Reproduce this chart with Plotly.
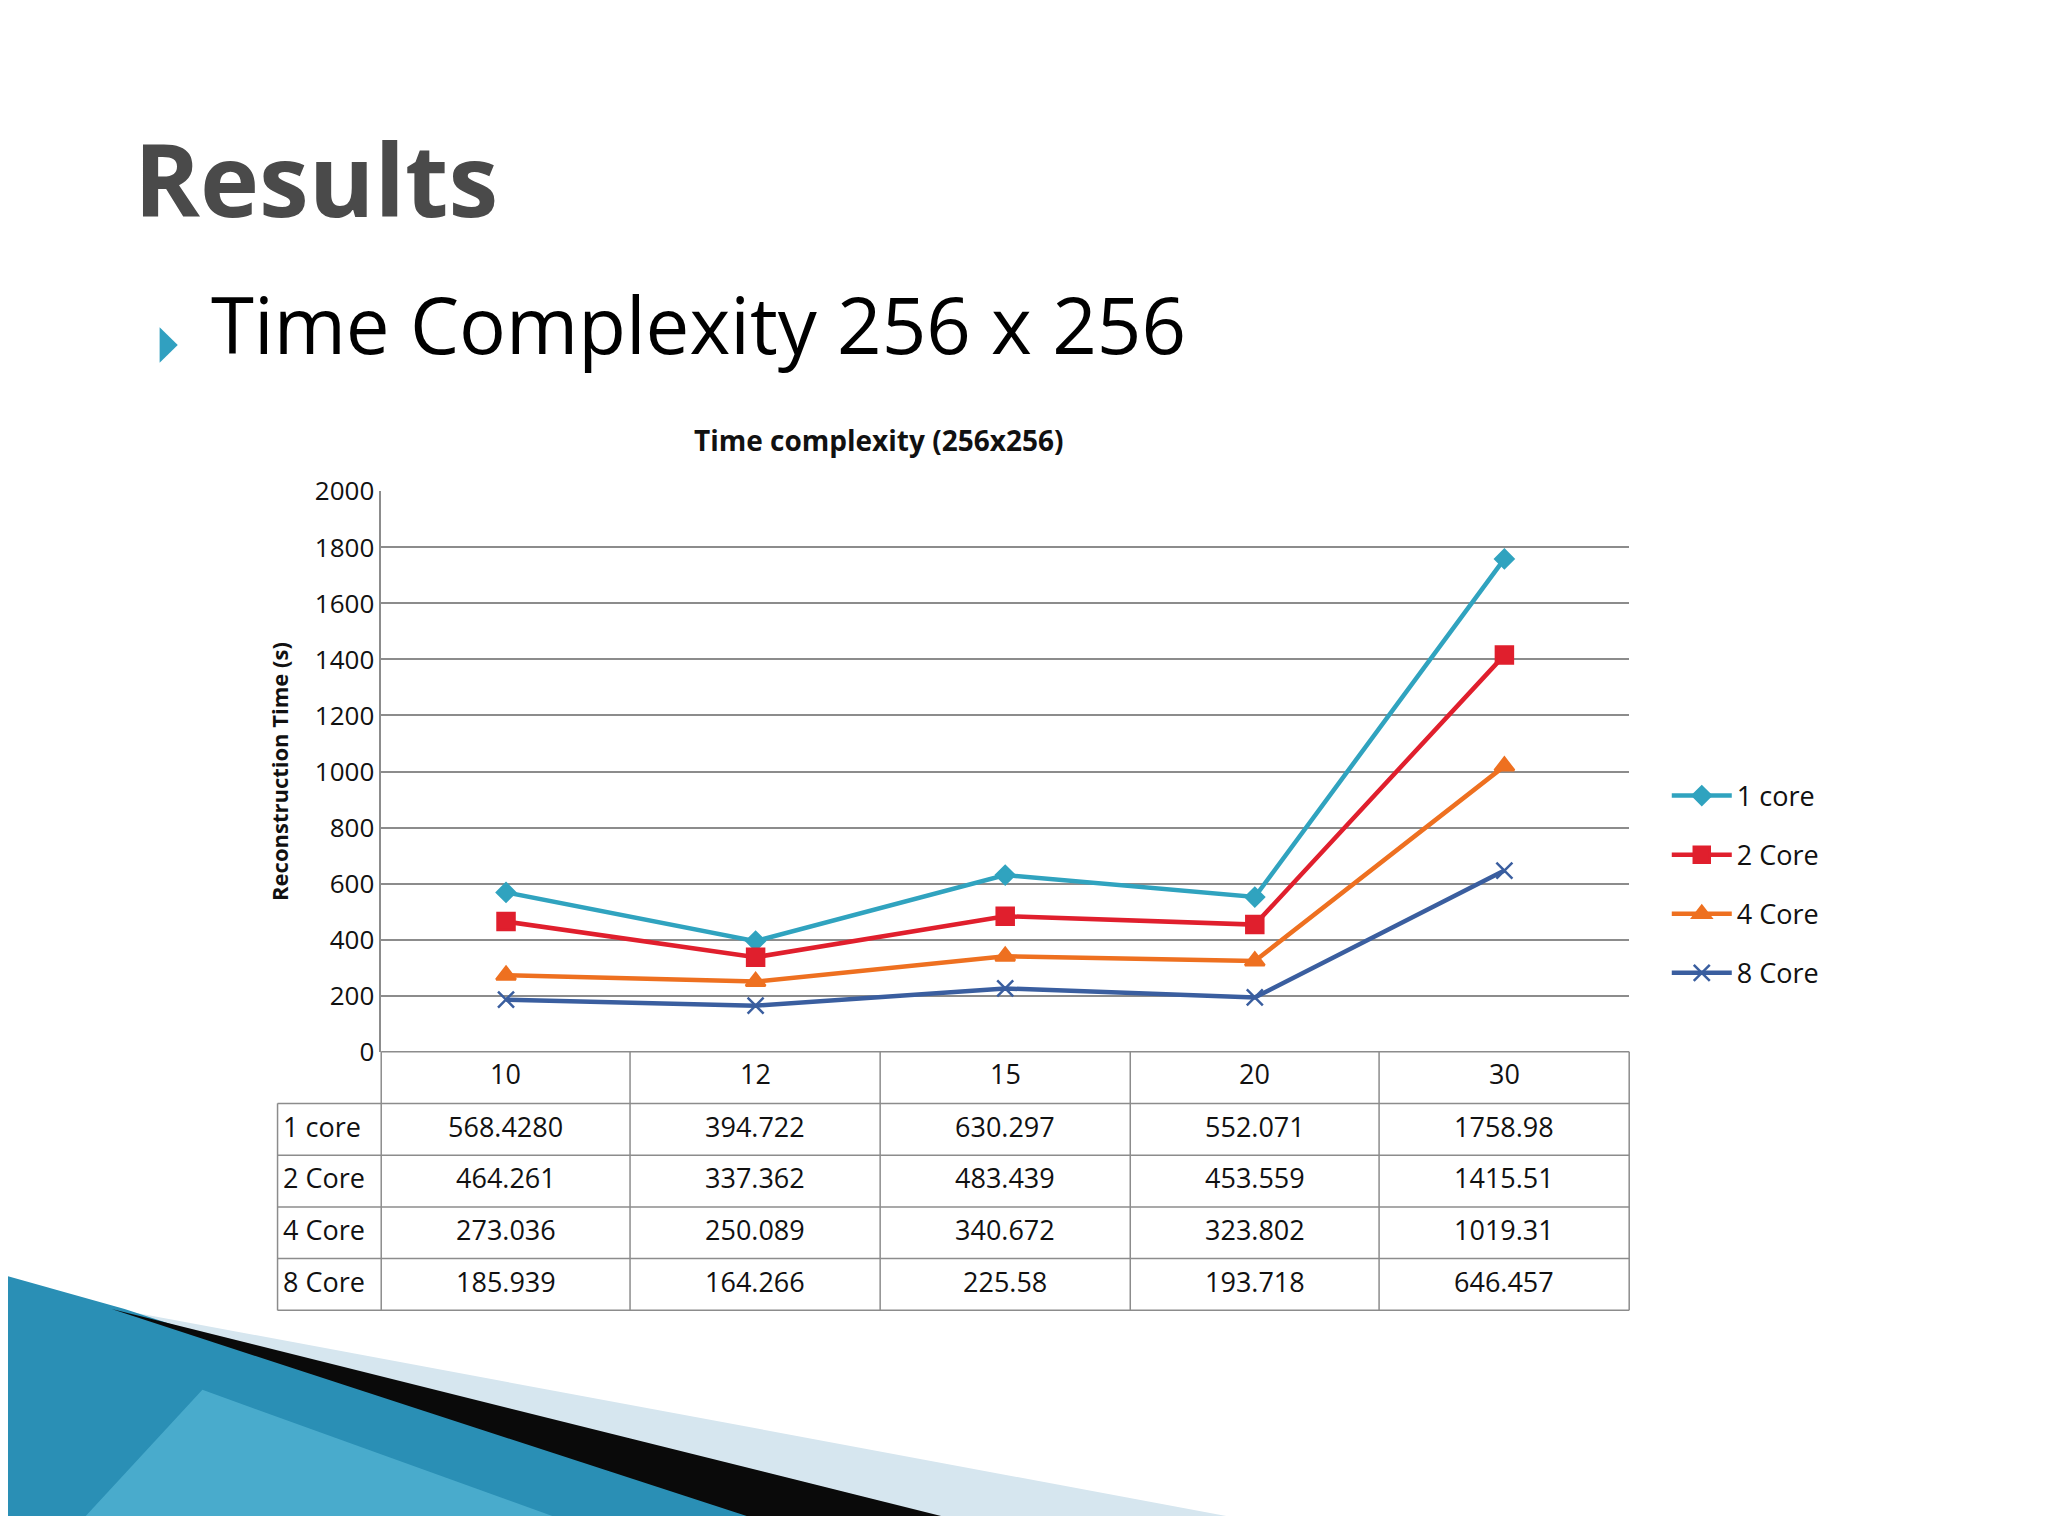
import plotly.graph_objects as go

categories = ["10", "12", "15", "20", "30"]
series_names = ["1 core", "2 Core", "4 Core", "8 Core"]
core1 = [568.4280, 394.722, 630.297, 552.071, 1758.98]
core2 = [464.261, 337.362, 483.439, 453.559, 1415.51]
core4 = [273.036, 250.089, 340.672, 323.802, 1019.31]
core8 = [185.939, 164.266, 225.58, 193.718, 646.457]
table_text = [
    ["568.4280", "394.722", "630.297", "552.071", "1758.98"],
    ["464.261", "337.362", "483.439", "453.559", "1415.51"],
    ["273.036", "250.089", "340.672", "323.802", "1019.31"],
    ["185.939", "164.266", "225.58", "193.718", "646.457"],
]
colors = ["#30a3bf", "#e01f2d", "#ee7020", "#3a5e9f"]
symbols = ["diamond", "square", "triangle-up", "x-thin-open"]
msizes = [14, 17, 17, 16]

W, H = 2048, 1536
S = W / 1568.0
def px(x): return x * S / W
def py(y): return 1 - y * S / H

fig = go.Figure()
for name, vals, c, sym, ms in zip(series_names, [core1, core2, core4, core8], colors, symbols, msizes):
    fig.add_trace(go.Scatter(x=categories, y=vals, name=name, mode="lines+markers", legendgroup=name,
                             line=dict(color=c, width=4.5),
                             marker=dict(symbol=sym, size=ms, color=c,
                                         line=dict(color=c, width=2.5))))

shapes = []
def path(pts):
    return "M " + " L ".join(f"{px(x)},{py(y)}" for x, y in pts) + " Z"
shapes.append(dict(type="path", xref="paper", yref="paper", path=path([(0, 1000), (940, 1180), (0, 1180)]),
                   fillcolor="#d6e6ef", line=dict(width=0), layer="below"))
shapes.append(dict(type="path", xref="paper", yref="paper", path=path([(0, 990), (90, 1016), (580, 1180), (0, 1180)]),
                   fillcolor="#2a8fb5", line=dict(width=0), layer="below"))
shapes.append(dict(type="path", xref="paper", yref="paper", path=path([(80, 1016), (720, 1180), (570, 1180)]),
                   fillcolor="#0a0a0a", line=dict(width=0), layer="below"))
shapes.append(dict(type="path", xref="paper", yref="paper", path=path([(150, 1080), (420, 1180), (60, 1180)]),
                   fillcolor="#5fbedc", line=dict(width=0), layer="below", opacity=0.6))
shapes.append(dict(type="path", xref="paper", yref="paper", path=path([(117, 238), (131, 252), (117, 266)]),
                   fillcolor="#31a0c0", line=dict(width=0)))

cols = [288, 480, 673, 866, 1058, 1251]
lc = "#8c8c8c"
def line(x0, y0, x1, y1):
    shapes.append(dict(type="line", xref="paper", yref="paper", x0=px(x0), y0=py(y0), x1=px(x1), y1=py(y1),
                       line=dict(color=lc, width=1.5)))
for x in cols:
    line(x, 812, x, 1017)
line(208, 853, 208, 1017)
line(288, 812, 1251, 812)
for y in [853, 894, 935, 976, 1017]:
    line(208, y, 1251, y)

ann = []
tf = dict(family="Open Sans", size=27, color="#111111")
def A(x, y, text, font, xa="center"):
    ann.append(dict(x=px(x), y=py(y), xref="paper", yref="paper", text=text, showarrow=False,
                    xanchor=xa, yanchor="middle", font=font))
for i, cat in enumerate(categories):
    xc = (cols[i] + cols[i + 1]) / 2
    A(xc, 829, cat, tf)
    for r in range(4):
        A(xc, 871 + 41 * r, table_text[r][i], tf)
for r, nm in enumerate(series_names):
    A(211, 871 + 41 * r, nm, tf, "left")
A(96, 120, "<b>Results</b>", dict(family="Open Sans", size=100, color="#4a4a4a"), "left")
A(155, 235, "Time Complexity 256 x 256", dict(family="Open Sans", size=78, color="#000000"), "left")
A(672, 327, "<b>Time complexity (256x256)</b>", dict(family="Open Sans", size=28, color="#111111"))

fig.update_layout(
    margin=dict(l=0, r=0, t=0, b=0),
    paper_bgcolor="white", plot_bgcolor="white",
    xaxis=dict(domain=[px(288), px(1251)], range=[-0.5, 4.5], showticklabels=False, showgrid=False,
               zeroline=False, showline=False, ticks=""),
    yaxis=dict(domain=[py(812), py(368)], range=[0, 2000], dtick=200, showgrid=True, gridcolor="#8c8c8c",
               gridwidth=1.5, zeroline=False, showline=True, linecolor="#8c8c8c", linewidth=1.5,
               tickfont=dict(family="Open Sans", size=26, color="#111111"), ticks="", ticklen=0,
               title=dict(text="<b>Reconstruction Time (s)</b>", standoff=20,
                          font=dict(family="Open Sans", size=22, color="#111111"))),
    legend=dict(x=px(1280), y=py(590), xanchor="left", yanchor="top", tracegroupgap=21,
                font=dict(family="Open Sans", size=27, color="#111111"), itemwidth=60,
                bgcolor="rgba(0,0,0,0)"),
    shapes=shapes, annotations=ann,
)
fig.write_html("out.html")
